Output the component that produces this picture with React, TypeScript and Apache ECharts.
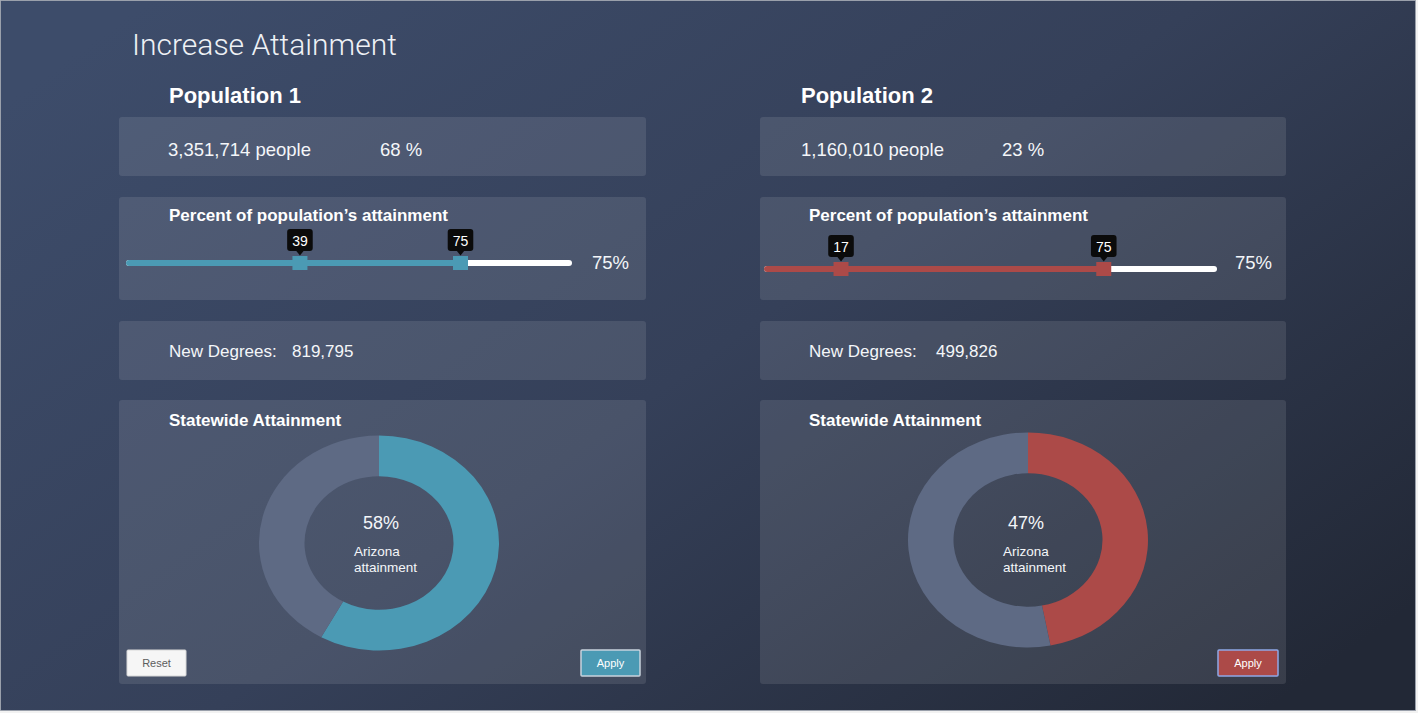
import React, { useEffect, useRef } from "react";
import * as echarts from "echarts";

// ---------- data ----------
const pageTitle = "Increase Attainment";
const populationNames = ["Population 1", "Population 2"];
const peopleCounts = [3351714, 1160010];
const populationShare = [68, 23];
const sliderLow = [39, 17];
const sliderHigh = [75, 75];
const newDegrees = [819795, 499826];
const statewideAttainment = [58, 47];
const statewideRemainder = [42, 53];
const sliderLabel = "Percent of population\u2019s attainment";
const newDegreesLabel = "New Degrees:";
const statewideLabel = "Statewide Attainment";
const centerCaption = ["Arizona", "attainment"];

// ---------- styling / layout ----------
const ACCENTS = ["#4b9ab4", "#ac4a48"];
const APPLY_BORDERS = ["#c7d2dd", "#8ea8e6"];
const GREY_SLICE = "#5e6a84";
const FONT = "'Liberation Sans', Arial, Helvetica, sans-serif";
const W = 1418;
const H = 713;

const COLS = [
  {
    x0: 119, w: 527, popX: 169, peopleX: 168, pctX: 380, labelX: 169,
    sliderL: 126, sliderW: 446, sliderCy: 263, endPctX: 592,
    ndLabelX: 169, ndValX: 292, swX: 169,
    donutCx: 379, donutCy: 543, centerX: 381, arizX: 354,
    reset: true, applyX: 581, applyW: 59,
  },
  {
    x0: 760, w: 526, popX: 801, peopleX: 801, pctX: 1002, labelX: 809,
    sliderL: 764, sliderW: 453, sliderCy: 269, endPctX: 1235,
    ndLabelX: 809, ndValX: 936, swX: 809,
    donutCx: 1028, donutCy: 540, centerX: 1026, arizX: 1003,
    reset: false, applyX: 1218, applyW: 60,
  },
];
const PANELS = [
  { y: 117, h: 59 },
  { y: 197, h: 103 },
  { y: 321, h: 59 },
  { y: 400, h: 284 },
];
const OUTER_R = 120;
const INNER_R = 74.5;
const SQUISH = 215 / 240;

function txt(text: string, x: number, y: number, size: number, opts: any = {}) {
  return {
    type: "text",
    x,
    y,
    silent: true,
    z: 10,
    style: {
      text,
      fill: opts.fill || "#f4f6f9",
      fontSize: size,
      fontWeight: opts.weight || "normal",
      fontFamily: opts.family || FONT,
      textAlign: opts.align || "left",
      textVerticalAlign: "middle",
    },
  };
}

function buildMainOption() {
  const graphics: any[] = [];
  graphics.push({
    type: "rect",
    z: 0,
    silent: true,
    shape: { x: 0.5, y: 0.5, width: 1415, height: 710 },
    style: {
      fill: new echarts.graphic.LinearGradient(0, 0.15, 1, 0.85, [
        { offset: 0, color: "#3d4c6a" },
        { offset: 0.5, color: "#354059" },
        { offset: 1, color: "#222836" },
      ]),
      stroke: "#9aa0ab",
      lineWidth: 1,
    },
  });
  graphics.push(txt(pageTitle, 132, 44, 30, { weight: 300, family: "Roboto, 'Open Sans', sans-serif", fill: "#eef1f5" }));

  COLS.forEach((c, i) => {
    PANELS.forEach((p) => {
      graphics.push({
        type: "rect",
        z: 1,
        silent: true,
        shape: { x: c.x0, y: p.y, width: c.w, height: p.h, r: 3 },
        style: { fill: "rgba(255,255,255,0.1)" },
      });
    });
    graphics.push(txt(populationNames[i], c.popX, 95, 22, { weight: "bold", fill: "#ffffff" }));
    graphics.push(txt(peopleCounts[i].toLocaleString("en-US") + " people", c.peopleX, 149, 18.5));
    graphics.push(txt(populationShare[i] + " %", c.pctX, 149, 18.5));
    graphics.push(txt(sliderLabel, c.labelX, 215, 17, { weight: "bold", fill: "#ffffff" }));
    graphics.push(txt(sliderHigh[i] + "%", c.endPctX, 262, 18.5));
    graphics.push(txt(newDegreesLabel, c.ndLabelX, 351, 17));
    graphics.push(txt(newDegrees[i].toLocaleString("en-US"), c.ndValX, 351, 17));
    graphics.push(txt(statewideLabel, c.swX, 420, 17, { weight: "bold", fill: "#ffffff" }));
    graphics.push(txt(statewideAttainment[i] + "%", c.centerX, 523, 18, { align: "center" }));
    graphics.push(txt(centerCaption[0], c.arizX, 551, 13.5));
    graphics.push(txt(centerCaption[1], c.arizX, 567, 13.5));
    if (c.reset) {
      graphics.push({
        type: "rect",
        z: 5,
        silent: true,
        shape: { x: 127, y: 650, width: 59, height: 26, r: 1 },
        style: { fill: "#f6f6f6", stroke: "#d8d8d8", lineWidth: 1 },
      });
      graphics.push(txt("Reset", 156.5, 663, 11, { align: "center", fill: "#5d5d5d" }));
    }
    graphics.push({
      type: "rect",
      z: 5,
      silent: true,
      shape: { x: c.applyX, y: 650, width: c.applyW, height: 26, r: 1 },
      style: { fill: ACCENTS[i], stroke: APPLY_BORDERS[i], lineWidth: 1.5 },
    });
    graphics.push(txt("Apply", c.applyX + c.applyW / 2, 663, 11, { align: "center", fill: "#ffffff" }));
  });

  const grids: any[] = [];
  const xAxes: any[] = [];
  const yAxes: any[] = [];
  const series: any[] = [];
  COLS.forEach((c, i) => {
    grids.push({ left: c.sliderL, width: c.sliderW, top: c.sliderCy - 10, height: 20, z: 5 });
    xAxes.push({ type: "value", min: 0, max: 100, show: false, gridIndex: i });
    yAxes.push({ type: "category", data: ["slider"], show: false, gridIndex: i });
    series.push({
      type: "bar",
      xAxisIndex: i,
      yAxisIndex: i,
      data: [100],
      barWidth: 6,
      barGap: "-100%",
      silent: true,
      z: 5,
      itemStyle: { color: "#ffffff", borderRadius: 3 },
    });
    series.push({
      type: "bar",
      xAxisIndex: i,
      yAxisIndex: i,
      data: [sliderHigh[i]],
      barWidth: 6,
      barGap: "-100%",
      silent: true,
      z: 6,
      itemStyle: { color: ACCENTS[i], borderRadius: [3, 0, 0, 3] },
    });
    series.push({
      type: "scatter",
      xAxisIndex: i,
      yAxisIndex: i,
      data: [[sliderLow[i], 0], [sliderHigh[i], 0]],
      symbol: "triangle",
      symbolRotate: 180,
      symbolSize: [8, 5],
      symbolOffset: [0, -10],
      silent: true,
      z: 7,
      itemStyle: { color: "#0b0b0b", opacity: 1 },
    });
    series.push({
      type: "scatter",
      xAxisIndex: i,
      yAxisIndex: i,
      data: [[sliderLow[i], 0], [sliderHigh[i], 0]],
      symbol: "rect",
      symbolSize: [15, 14],
      silent: true,
      z: 8,
      itemStyle: { color: ACCENTS[i], opacity: 1 },
      label: {
        show: true,
        position: "top",
        distance: 5,
        formatter: (p: any) => String(p.value[0]),
        color: "#ffffff",
        fontSize: 14,
        fontFamily: FONT,
        backgroundColor: "#0b0b0b",
        padding: [4, 5, 3, 5],
        borderRadius: 3,
        lineHeight: 15,
      },
    });
  });

  return {
    animation: false,
    backgroundColor: "#f2f2f2",
    grid: grids,
    xAxis: xAxes,
    yAxis: yAxes,
    series,
    graphic: { elements: graphics },
  };
}

function buildDonutOption(i: number) {
  return {
    animation: false,
    series: [
      {
        type: "pie",
        radius: [INNER_R, OUTER_R],
        center: ["50%", "50%"],
        startAngle: 90,
        clockwise: true,
        silent: true,
        label: { show: false },
        labelLine: { show: false },
        emphasis: { disabled: true },
        itemStyle: { borderWidth: 0 },
        data: [
          { name: "Attained", value: statewideAttainment[i], itemStyle: { color: ACCENTS[i] } },
          { name: "Remaining", value: statewideRemainder[i], itemStyle: { color: GREY_SLICE } },
        ],
      },
    ],
  };
}

export default function App() {
  const mainRef = useRef<HTMLDivElement>(null);
  const d0Ref = useRef<HTMLDivElement>(null);
  const d1Ref = useRef<HTMLDivElement>(null);

  useEffect(() => {
    document.body.style.margin = "0";
    const main = echarts.init(mainRef.current!, undefined, { renderer: "svg" });
    main.setOption(buildMainOption());
    const donuts = [d0Ref.current!, d1Ref.current!].map((el, i) => {
      const ch = echarts.init(el, undefined, { renderer: "svg" });
      ch.setOption(buildDonutOption(i));
      return ch;
    });
    return () => {
      main.dispose();
      donuts.forEach((d) => d.dispose());
    };
  }, []);

  const box = 2 * OUTER_R + 10;
  return (
    <div style={{ position: "fixed", left: 0, top: 0, width: W, height: H, overflow: "hidden" }}>
      <div ref={mainRef} style={{ position: "absolute", left: 0, top: 0, width: W, height: H }} />
      {[d0Ref, d1Ref].map((r, i) => (
        <div
          key={i}
          ref={r}
          style={{
            position: "absolute",
            left: COLS[i].donutCx - box / 2,
            top: COLS[i].donutCy - box / 2,
            width: box,
            height: box,
            transform: `scaleY(${SQUISH})`,
            transformOrigin: "50% 50%",
            pointerEvents: "none",
          }}
        />
      ))}
    </div>
  );
}
